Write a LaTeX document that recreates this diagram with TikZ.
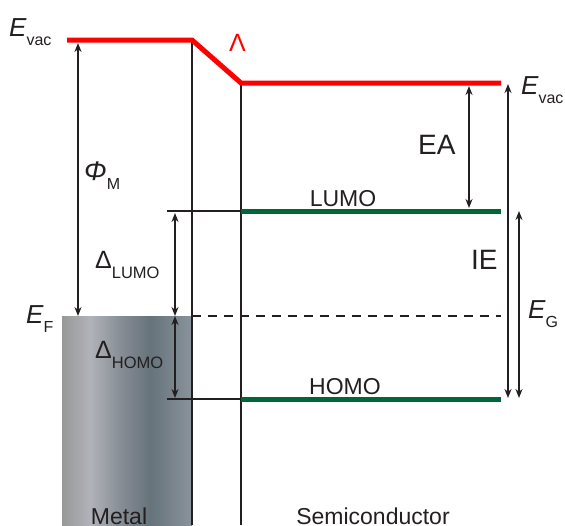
\documentclass[tikz,border=0pt]{standalone}
\usepackage{fontspec}
\setmainfont{Liberation Sans}
\usetikzlibrary{arrows.meta}
\definecolor{evac}{RGB}{255,0,0}
\definecolor{orb}{RGB}{0,102,58}
\definecolor{txt}{RGB}{35,31,32}
\definecolor{mA}{RGB}{152,152,152}
\definecolor{mB}{RGB}{176,179,185}
\definecolor{mC}{RGB}{134,140,148}
\definecolor{mD}{RGB}{102,115,122}
\definecolor{mE}{RGB}{138,147,155}
\pgfdeclarehorizontalshading{metalshade}{100bp}{
  color(0bp)=(mA);
  color(25bp)=(mA);
  color(35.8bp)=(mB);
  color(48bp)=(mC);
  color(58.8bp)=(mD);
  color(75bp)=(mE);
  color(100bp)=(mE)}
\tikzset{
  lev/.style={line width=5pt},
  thin/.style={line width=1.6pt, draw=txt},
  dim/.style={line width=1.6pt, draw=txt, {Stealth[length=9pt,width=7pt]}-{Stealth[length=9pt,width=7pt]}},
  lab/.style={text=txt, inner sep=0pt, font=\fontsize{23}{26}\selectfont},
  big/.style={text=txt, inner sep=0pt, font=\fontsize{28}{30}\selectfont},
}
\begin{document}
\begin{tikzpicture}[x=1pt,y=-1pt]
\useasboundingbox (0,0) rectangle (565,525);
% metal block
\shade[shading=metalshade] (62,316) rectangle (192,525);
% coordinates
\coordinate (vacL) at (67,40);
\coordinate (vacK) at (192,40);
\coordinate (vacS) at (241,83);
\coordinate (vacR) at (501,83);
\coordinate (ifM) at (192,525);
\coordinate (ifS) at (241,525);
\coordinate (lumoL) at (241,211);
\coordinate (lumoR) at (501,211);
\coordinate (homoL) at (241,399);
\coordinate (homoR) at (501,399);
\coordinate (tickL) at (167,211);
\coordinate (tickH) at (167,399);
\coordinate (efM) at (192,316);
\coordinate (efR) at (501,316);
% interface lines
\draw[thin] (vacK) -- (ifM);
\draw[thin] (vacS) -- (ifS);
% ticks
\draw[thin] (tickL) -- (lumoL);
\draw[thin] (tickH) -- (homoL);
% Fermi dashed
\draw[thin, dash pattern=on 9pt off 7pt] (efM) -- (efR);
% levels
\draw[lev, evac, line join=miter] (vacL) -- (vacK) -- (vacS) -- (vacR);
\draw[lev, orb] (lumoL) -- (lumoR);
\draw[lev, orb] (homoL) -- (homoR);
% dimension arrows
\coordinate (phiT) at (78,43);
\coordinate (phiB) at (78,316);
\draw[dim] (phiT) -- (phiB);
\coordinate (dlT) at (175,213);
\coordinate (dlB) at (175,316);
\coordinate (dhB) at (175,398);
\draw[dim] (dlT) -- (dlB);
\draw[dim] (dlB) -- (dhB);
\coordinate (eaT) at (469,86);
\coordinate (eaB) at (469,208);
\draw[dim] (eaT) -- (eaB);
\coordinate (ieT) at (508,84);
\coordinate (ieB) at (508,398);
\draw[dim] (ieT) -- (ieB);
\coordinate (egT) at (519,211);
\coordinate (egB) at (519,398);
\draw[dim] (egT) -- (egB);
% labels
\node[lab, anchor=base west] (evl) at (9,36) {\fontsize{26}{28}\selectfont\itshape E\raisebox{-9pt}{\fontsize{16}{16}\selectfont\upshape vac}};
\node[lab, anchor=base west] (evr) at (521,94) {\fontsize{26}{28}\selectfont\itshape E\raisebox{-9pt}{\fontsize{16}{16}\selectfont\upshape vac}};
\node[lab, anchor=base west, text=evac] (lam) at (229,51) {\fontsize{25}{26}\selectfont Λ};
\node[lab, anchor=base west] (phi) at (84,180) {\fontsize{27}{28}\selectfont\itshape Φ\raisebox{-9pt}{\fontsize{16}{16}\selectfont\upshape M}};
\node[lab, anchor=base west] (ef) at (26,323) {\fontsize{26}{28}\selectfont\itshape E\raisebox{-9pt}{\fontsize{16}{16}\selectfont\upshape F}};
\node[lab, anchor=base west] (eg) at (528,318) {\fontsize{26}{28}\selectfont\itshape E\raisebox{-9pt}{\fontsize{16}{16}\selectfont\upshape G}};
\node[lab, anchor=base west] (dl) at (95,268) {\fontsize{25}{26}\selectfont Δ\raisebox{-10pt}{\fontsize{16.5}{17}\selectfont LUMO}};
\node[lab, anchor=base west] (dh) at (95,358) {\fontsize{25}{26}\selectfont Δ\raisebox{-10pt}{\fontsize{16.5}{17}\selectfont HOMO}};
\node[big, anchor=base west] (ea) at (418,154) {EA};
\node[big, anchor=base west] (ie) at (471,269) {IE};
\node[lab, anchor=base] (lumo) at (343,206) {LUMO};
\node[lab, anchor=base] (homo) at (345,394) {HOMO};
\node[lab, anchor=base] (metal) at (119,524) {Metal};
\node[lab, anchor=base] (semi) at (373,524) {Semiconductor};
\end{tikzpicture}
\end{document}
